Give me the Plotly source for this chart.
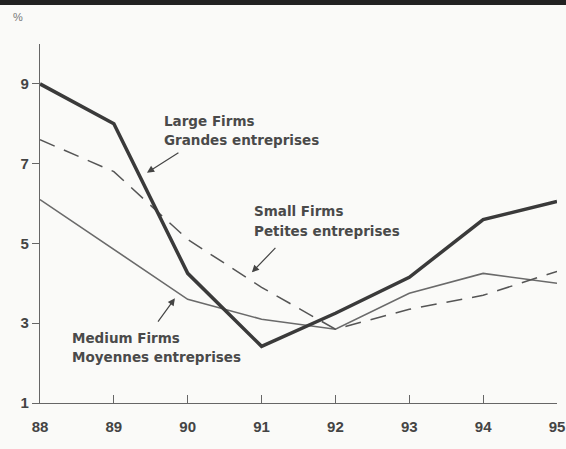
import plotly.graph_objects as go

years = [88, 89, 90, 91, 92, 93, 94, 95]
large_firms = [9.0, 8.0, 4.25, 2.42, 3.25, 4.15, 5.6, 6.05]
small_firms = [7.6, 6.8, 5.1, 3.9, 2.85, 3.35, 3.7, 4.3]
medium_firms = [6.1, 4.85, 3.6, 3.1, 2.85, 3.75, 4.25, 4.0]
y_ticks = [1, 3, 5, 7, 9]
x_ticks = years
x_tick_labels = ["88", "89", "90", "91", "92", "93", "94", "95"]

W, H = 566, 449
ml, mr, mt, mb = 40, 9, 44, 46
pw, ph = W - ml - mr, H - mt - mb

def px_x(p):
    return (p - ml) / pw

def px_y(p):
    return (H - mb - p) / ph

fig = go.Figure()
fig.add_trace(go.Scatter(x=years, y=medium_firms, mode="lines",
                         line=dict(color="#6a6a6a", width=1.6), name="Medium Firms"))
fig.add_trace(go.Scatter(x=years, y=small_firms, mode="lines",
                         line=dict(color="#555555", width=1.5, dash="16px,10px"), name="Small Firms"))
fig.add_trace(go.Scatter(x=years, y=large_firms, mode="lines",
                         line=dict(color="#3a3a3a", width=3.5), name="Large Firms"))

txt_font = dict(family="DejaVu Sans", size=13.5, color="#4a4a4a")
labels = [
    ("Large Firms", 162, 121),
    ("Grandes entreprises", 162, 140),
    ("Small Firms", 252, 211),
    ("Petites entreprises", 252, 231),
    ("Medium Firms", 70, 338),
    ("Moyennes entreprises", 70, 357),
]
anns = []
for t, x, y in labels:
    anns.append(dict(text="<b>" + t + "</b>", x=px_x(x), y=px_y(y), xref="paper", yref="paper",
                     xanchor="left", yanchor="middle", showarrow=False, font=txt_font))

def dx(p):
    return 88 + (p - 40) / 73.9

def dy(p):
    return 1 + (403 - p) / 40.0

arrows = [((180, 151), (147, 172)), ((277, 246), (252, 272)), ((157, 323), (175, 298))]
for (tx, ty), (hx, hy) in arrows:
    anns.append(dict(x=dx(hx), y=dy(hy), ax=dx(tx), ay=dy(ty), xref="x", yref="y",
                     axref="x", ayref="y", showarrow=True, arrowhead=2, arrowsize=1.2,
                     arrowwidth=1.2, arrowcolor="#444444", text=""))

anns.append(dict(text="%", x=px_x(18), y=px_y(17), xref="paper", yref="paper",
                 xanchor="center", yanchor="middle",
                 showarrow=False, font=dict(family="Liberation Sans, Arial", size=11, color="#777777")))

fig.update_layout(
    width=W, height=H,
    margin=dict(l=ml, r=mr, t=mt, b=mb, autoexpand=False),
    paper_bgcolor="#fafaf8", plot_bgcolor="#fafaf8",
    showlegend=False,
    annotations=anns,
    shapes=[dict(type="rect", xref="paper", yref="paper",
                 x0=px_x(0), x1=px_x(W), y0=px_y(5), y1=px_y(0),
                 fillcolor="#222222", line=dict(width=0))],
    xaxis=dict(range=[88, 95], tickvals=x_ticks, ticktext=["<b>" + t + "</b>" for t in x_tick_labels],
               showgrid=False, zeroline=False, showline=True, linecolor="#666666", linewidth=1.3,
               ticks="inside", ticklen=8, tickcolor="#666666", ticklabelstandoff=10,
               tickfont=dict(family="Liberation Sans, Arial", size=15, color="#444444")),
    yaxis=dict(range=[1, 10], tickvals=y_ticks, ticktext=["<b>%d</b>" % v for v in y_ticks],
               showgrid=False, zeroline=False, showline=True, linecolor="#666666", linewidth=1.3,
               ticks="outside", ticklen=7, tickcolor="#666666",
               tickfont=dict(family="Liberation Sans, Arial", size=15, color="#444444")),
)

fig.write_html("out.html", config={"displayModeBar": False},
               post_script="document.body.style.margin='0';document.body.style.overflow='hidden';")
